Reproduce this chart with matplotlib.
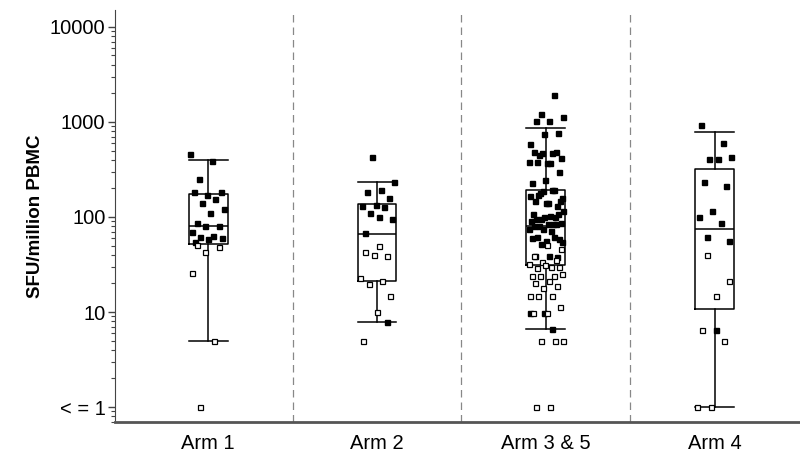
import numpy as np
import matplotlib
matplotlib.use('Agg')
import matplotlib.pyplot as plt
from matplotlib.ticker import FixedLocator, LogLocator, NullFormatter

# DATOS
arms = ['Arm 1', 'Arm 2', 'Arm 3 & 5', 'Arm 4']

# resumen de cajas: bigote inf, Q1, mediana, Q3, bigote sup
whislo = [5, 7.8, 6.6, 1]
q1 = [52, 21, 31, 10.7]
med = [81, 67, 81, 74]
q3 = [175, 138, 193, 318]
whishi = [395, 233, 868, 789]

# puntos rellenos (respondedores) y abiertos
filled_1 = [458, 392, 250, 182, 172, 182, 155, 141, 120, 110, 87, 80, 81, 70,
            63, 62, 60, 59, 55]
open_1 = [51, 48, 43, 26, 5, 1]

filled_2 = [431, 235, 191, 182, 159, 135, 130, 128, 109, 95, 101, 68, 7.9]
open_2 = [49, 43, 39, 40, 23, 21, 19.6, 14.7, 9.9, 5]

filled_3 = [1911, 1213, 1122, 1019, 1019, 765, 741, 582, 466, 448, 414, 367,
            486, 486, 466, 383, 367, 379, 294, 246, 228, 194, 179, 159, 141,
            147, 130, 187, 166, 194, 172, 147, 141, 107, 99, 95, 116, 103, 95,
            107, 99, 91, 84, 81, 87, 84, 81, 84, 74, 74, 72, 61, 59, 56, 60,
            61, 52, 55, 39, 39, 38, 9.8, 9.8, 6.6]
open_3 = [46, 51, 39, 35, 34, 32, 30, 29, 30, 31, 24, 24, 24, 25, 21, 20, 19,
          18, 14.6, 14.6, 14.6, 11.2, 9.8, 9.8, 5, 5, 5, 1, 1]

filled_4 = [918, 603, 407, 431, 404, 233, 210, 116, 99, 86, 62, 56, 6.5]
open_4 = [40, 21, 14.7, 6.5, 5, 1, 1]

filled = [filled_1, filled_2, filled_3, filled_4]
opened = [open_1, open_2, open_3, open_4]

ytick_vals = [1, 10, 100, 1000, 10000]
ytick_labels = ['< = 1', '10', '100', '1000', '10000']

# GRAFICA
plt.rcParams['font.family'] = ['Liberation Sans', 'DejaVu Sans']
fig = plt.figure(figsize=(8, 4.61), dpi=100)
ax = fig.add_axes([0.144, 0.085, 0.855, 0.893])

pos = np.arange(1, len(arms) + 1)
stats = []
for i in range(len(arms)):
    stats.append({'whislo': whislo[i], 'q1': q1[i], 'med': med[i],
                  'q3': q3[i], 'whishi': whishi[i], 'fliers': []})

lp = dict(color='black', linewidth=1.1)
ax.bxp(stats, positions=pos, widths=0.23, capwidths=0.23,
       showfliers=False, boxprops=lp, whiskerprops=lp, capprops=lp,
       medianprops=lp, manage_ticks=False, zorder=2)


def jitter(n, k):
    # desplazamiento determinista (no aleatorio) para separar puntos
    return ((np.arange(n) * 0.6180339887 + 0.37 * k) % 1 - 0.5) * 0.21


for k in range(len(arms)):
    f = np.array(filled[k])
    o = np.array(opened[k])
    ax.plot(pos[k] + jitter(len(f), k), f, 's', color='black',
            markersize=3.6, zorder=3)
    ax.plot(pos[k] + jitter(len(o), k + 0.5), o, 's', markerfacecolor='white',
            markeredgecolor='black', markeredgewidth=0.9, markersize=3.6,
            zorder=3)

for s in [1.5, 2.5, 3.5]:
    ax.axvline(s, color='#888888', linestyle=(0, (6, 4)), linewidth=0.9,
               zorder=1)

ax.set_yscale('log')
ax.set_ylim(0.70, 15000)
ax.set_xlim(0.45, 4.5)

ax.yaxis.set_major_locator(FixedLocator(ytick_vals))
ax.set_yticklabels(ytick_labels)
ax.yaxis.set_minor_locator(LogLocator(base=10, subs=np.arange(2, 10)))
ax.yaxis.set_minor_formatter(NullFormatter())

ax.set_xticks(pos)
ax.set_xticklabels(arms)
ax.tick_params(axis='x', length=0, labelsize=14.5, pad=9)
ax.tick_params(axis='y', which='major', length=5, width=1, labelsize=14.5,
               color='#444444', pad=2)
ax.tick_params(axis='y', which='minor', length=3, width=0.8, color='#444444')

ax.set_ylabel('SFU/million PBMC', fontsize=13.5, fontweight='bold',
              labelpad=4)

for sp in ['top', 'right']:
    ax.spines[sp].set_visible(False)
ax.spines['left'].set_color('#444444')
ax.spines['bottom'].set_color('#555555')
ax.spines['bottom'].set_linewidth(2)

fig.savefig('out.png', dpi=100)
